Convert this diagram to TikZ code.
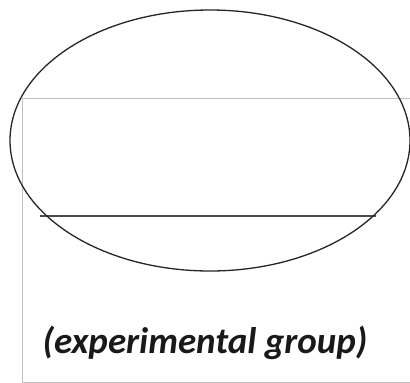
\documentclass[tikz,border=0pt]{standalone}
\usepackage{fontspec}
\setmainfont{Carlito}
\begin{document}
\begin{tikzpicture}[x=1pt,y=-1pt,
  frame/.style={draw=black!25, line width=1pt},
  rule/.style={draw=black!70, line width=1.5pt},
  oval/.style={draw=black!85, line width=1.3pt},
  caption/.style={font=\fontsize{37}{44}\selectfont\bfseries\itshape, text=black!90, inner sep=0pt}]
\useasboundingbox (0,0) rectangle (410,383);
\fill[white] (0,0) rectangle (410,383);
\draw[frame] (410,98) -- (22,98) -- (22,382) -- (410,382);
\draw[rule] (40,216) -- (376,216);
\draw[oval] (210,140.5) ellipse [x radius=200, y radius=130.5];
\node[caption] (cap) at (205,343) {(experimental group)};
\end{tikzpicture}
\end{document}
